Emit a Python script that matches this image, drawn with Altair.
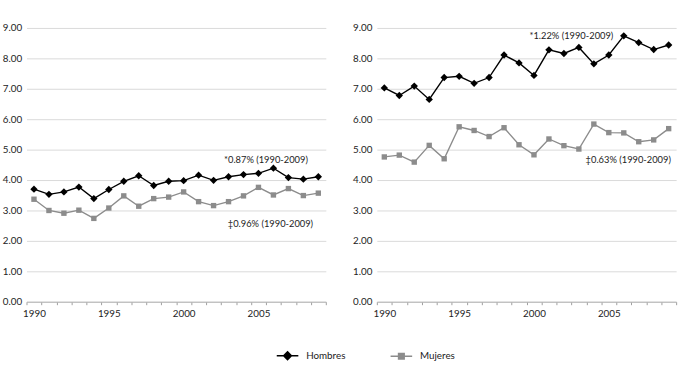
import altair as alt
import pandas as pd

years = list(range(1990, 2010))
series = ["Hombres", "Mujeres"]
colors = ["#000000", "#8c8c8c"]
marker_shapes = ["diamond", "square"]
marker_sizes = [56, 30]

left_hombres = [3.70, 3.53, 3.61, 3.77, 3.39, 3.69, 3.96, 4.14, 3.82, 3.96,
                3.98, 4.16, 3.99, 4.11, 4.18, 4.22, 4.39, 4.08, 4.03, 4.11]
left_mujeres = [3.37, 3.00, 2.91, 3.01, 2.74, 3.08, 3.48, 3.14, 3.39, 3.44,
                3.61, 3.29, 3.16, 3.29, 3.48, 3.76, 3.51, 3.72, 3.49, 3.57]
right_hombres = [7.03, 6.78, 7.09, 6.65, 7.37, 7.41, 7.18, 7.37, 8.11, 7.85,
                 7.44, 8.28, 8.16, 8.36, 7.82, 8.11, 8.74, 8.52, 8.29, 8.44]
right_mujeres = [4.76, 4.82, 4.59, 5.14, 4.70, 5.75, 5.63, 5.43, 5.72, 5.16,
                 4.83, 5.35, 5.13, 5.02, 5.84, 5.56, 5.55, 5.26, 5.32, 5.69]

left_notes = ["*0.87% (1990-2009)", "\u20210.96% (1990-2009)"]
left_note_x = [2005.5, 2005.8]
left_note_y = [4.66, 2.55]
right_notes = ["*1.22% (1990-2009)", "\u20210.63% (1990-2009)"]
right_note_x = [2002.5, 2006.3]
right_note_y = [8.72, 4.65]

tick_bounds = [1989.5 + i for i in range(21)]
label_years = [1990, 1995, 2000, 2005]
y_ticks = list(range(10))

W, H = 305, 279
FONT = "Lato"
TXT = "#222222"

# legend symbols: short line with the series marker in the middle
legend_paths = ["M-1,0L1,0M0,-0.36L0.36,0L0,0.36L-0.36,0Z",
                "M-1,0L1,0M-0.26,-0.26L0.26,-0.26L0.26,0.26L-0.26,0.26Z"]

legend = alt.Legend(
    title=None, orient="none", direction="horizontal",
    legendX=254, legendY=322, padding=0,
    symbolSize=484, symbolStrokeWidth=1.5, symbolOpacity=1,
    labelOffset=7, columnPadding=42,
    labelFont=FONT, labelFontSize=10, labelColor=TXT,
)

label_expr = (
    f"indexof({label_years}, datum.value + 0.5) >= 0 ? format(datum.value + 0.5, 'd') : ''"
)

x_axis = alt.Axis(values=tick_bounds, labelExpr=label_expr,
                  labelOffset=W / 40, labelFlush=False, labelOverlap=False,
                  grid=False, tickSize=3, tickColor="#9e9e9e",
                  domainColor="#b5b5b5", labelPadding=4,
                  labelFont=FONT, labelFontSize=10, labelColor=TXT)
y_axis = alt.Axis(values=y_ticks, format=".2f", grid=True,
                  gridColor="#d9d9d9", domain=False, ticks=False,
                  labelPadding=5, labelFont=FONT, labelFontSize=10,
                  labelColor=TXT, minExtent=27, maxExtent=27)
x_enc = alt.X("year:Q", title=None, axis=x_axis,
              scale=alt.Scale(domain=[1989.5, 2009.5], nice=False, zero=False))
y_enc = alt.Y("value:Q", title=None, axis=y_axis,
              scale=alt.Scale(domain=[0, 9], nice=False, zero=True))


def panel(hom, muj, nx, ny, nt, show_legend):
    df = pd.DataFrame({
        "year": years * 2,
        "value": hom + muj,
        "serie": [series[0]] * len(years) + [series[1]] * len(years),
    })
    cscale = alt.Scale(domain=series, range=colors)
    lines = alt.Chart(df).mark_line(strokeWidth=1.4).encode(
        x=x_enc, y=y_enc,
        stroke=alt.Stroke("serie:N", scale=cscale, legend=legend if show_legend else None),
    )
    layers = [lines]
    for s, c, shp, sz in zip(series, colors, marker_shapes, marker_sizes):
        layers.append(
            alt.Chart(df).transform_filter(alt.datum.serie == s)
            .mark_point(filled=True, opacity=1, shape=shp, size=sz, color=c)
            .encode(x=x_enc, y=y_enc)
        )
    if show_legend:
        layers.append(
            alt.Chart(df).mark_point(filled=True, opacity=0).encode(
                x=x_enc, y=y_enc,
                fill=alt.Fill("serie:N", scale=cscale, legend=legend),
                shape=alt.Shape("serie:N", scale=alt.Scale(domain=series, range=legend_paths),
                                legend=legend),
            )
        )
    nd = pd.DataFrame({"year": nx, "value": ny, "t": nt})
    layers.append(
        alt.Chart(nd).mark_text(font=FONT, fontSize=9.5, color=TXT).encode(
            x=x_enc, y=y_enc, text="t:N")
    )
    return alt.layer(*layers).properties(width=W, height=H)


left = panel(left_hombres, left_mujeres, left_note_x, left_note_y, left_notes, True)
right = panel(right_hombres, right_mujeres, right_note_x, right_note_y, right_notes, False)

chart = alt.hconcat(left, right, spacing=17).properties(
    padding={"left": 0, "top": 20, "right": 0, "bottom": 0}
).configure_view(strokeWidth=0)

chart.save("out.html", embed_options={"renderer": "svg", "actions": False})
